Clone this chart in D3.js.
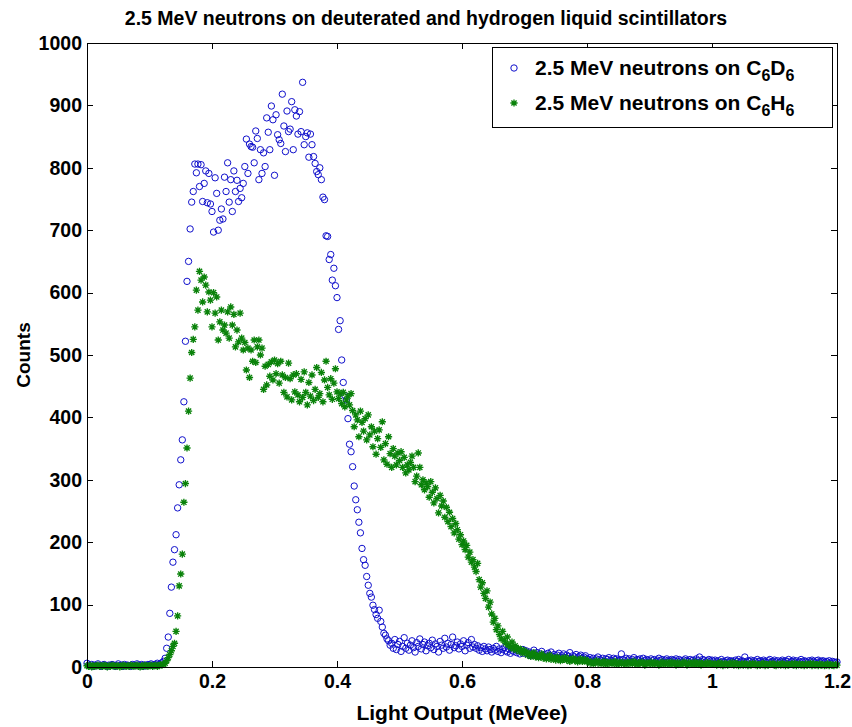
<!DOCTYPE html>
<meta charset="utf-8">
<head>
    <title>2.5 MeV neutrons on deuterated and hydrogen liquid scintillators</title>
    <style>
        body {
            margin: 0;
            background-color: #ffffff;
        }
        text {
            font-family: "Liberation Sans", Arial, sans-serif;
            font-weight: bold;
            fill: #000;
        }
        .axis path {
            display: none;
        }
        .axis line {
            stroke: #000;
            stroke-width: 1px;
            shape-rendering: crispEdges;
        }
        .axis text {
            font-size: 19.5px;
        }
        .frame {
            fill: none;
            stroke: #000;
            stroke-width: 1px;
            shape-rendering: crispEdges;
        }
        .d6 {
            fill: none;
            stroke: #1010cc;
            stroke-width: 1px;
        }
        .h6 {
            fill: none;
            stroke: #0a820a;
            stroke-width: 1.35px;
        }
    </style>
</head>
<body>
<svg width="852" height="727"></svg>
<script src="https://d3js.org/d3.v7.min.js"></script>
<script>
    // channel width of the light output histogram (MeVee)
    var binWidth = 0.0025;

    // counts per channel, C6D6 (blue circles)
    var d6Counts = [
        6,3,2,4,1,3,2,5,2,1, 3,4,2,1,3,2,4,3,1,2, 5,2,3,1,4,2,3,2,1,4,
        3,2,5,3,2,4,1,3,2,4, 3,5,2,4,3,6,4,5,7,9,
        14,30,48,86,128,168,188,212,255,292,
        332,364,425,522,618,650,702,745,762,806,
        792,806,770,805,746,775,795,744,791,742,
        730,697,784,759,700,716,734,718,785,762,
        808,745,781,730,795,762,780,746,767,752,
        775,802,846,791,838,834,833,808,859,847,
        781,829,791,824,802,880,857,829,899,877,
        788,885,853,845,839,918,867,826,891,858,
        862,906,829,893,883,854,890,858,937,837,
        850,856,817,854,837,818,807,794,789,800,
        781,753,749,691,690,653,661,620,639,611,
        592,541,555,492,456,435,428,398,357,345,
        321,290,268,252,232,215,190,172,163,145,
        131,118,112,99,92,84,78,91,73,64,
        54,51,45,42,35,38,30,44,28,36,
        41,25,33,47,30,38,27,35,42,31,
        24,39,33,45,29,36,40,26,34,38,
        31,43,28,37,33,24,41,35,30,46,
        32,38,27,36,48,31,34,40,29,37,
        33,42,26,35,39,30,44,32,36,30,
        34,27,31,25,33,29,26,32,28,24,
        30,27,33,25,29,23,28,31,26,24,
        29,22,27,25,30,23,26,21,25,28,
        22,26,21,24,18,22,27,19,23,17,
        21,25,18,20,16,22,19,24,17,20,
        15,19,22,16,18,21,15,19,17,23,
        14,18,16,20,15,17,19,14,16,18,
        13,12,15,11,14,10,13,16,12,11,
        14,9,13,12,15,11,10,14,12,13,
        9,11,21,12,10,14,11,13,9,12,
        15,10,12,11,13,9,14,10,12,11,
        8,13,10,12,9,11,14,10,12,8,
        11,13,10,9,12,11,10,13,9,12,
        10,8,11,13,10,9,12,10,11,8,
        13,10,16,9,12,11,8,10,12,9,
        11,9,11,8,10,7,12,9,8,10,
        11,8,10,9,7,11,9,12,8,10,
        9,16,8,10,9,11,7,10,8,12,
        9,10,8,11,9,7,10,12,8,9,
        11,8,10,7,9,11,8,10,9,12,
        7,9,11,8,10,7,9,12,8,10,
        9,7,10,8,11,9,7,10,11,8,
        9,10,7,9,8,10,6,9,8,7,
        8
    ];

    // counts per channel, C6H6 (green stars)
    var h6Counts = [
        2,1,3,0,2,1,2,3,1,2, 1,3,2,0,2,1,3,2,1,2, 2,0,1,3,2,1,2,1,3,2,
        1,2,3,1,0,2,1,3,2,1, 2,3,1,2,3,1,2,4,3,4,
        6,10,15,20,26,33,38,57,82,130,
        149,181,264,294,351,410,463,504,525,545,
        604,572,634,620,585,625,612,569,601,588,
        545,600,567,593,524,553,572,540,548,535,
        569,527,577,548,565,513,540,521,567,527,
        508,520,476,511,464,508,490,524,488,513,
        524,500,511,445,482,452,485,466,489,460,
        492,470,486,455,490,468,440,464,433,487,
        462,428,468,441,470,436,425,461,432,473,
        440,420,456,434,468,427,445,480,432,438,
        472,425,460,490,448,436,462,429,455,478,
        441,430,438,422,440,417,428,434,420,438,
        411,385,404,396,369,410,392,378,398,364,
        404,372,385,353,378,341,366,380,352,393,
        332,358,325,369,342,320,350,338,324,343,
        331,345,320,336,311,324,316,328,338,320,
        297,306,343,320,292,300,284,295,289,272,
        297,280,263,287,270,247,275,258,266,240,
        256,233,248,225,238,215,230,220,205,212,
        196,202,188,195,176,184,168,172,160,153,
        166,140,128,135,118,110,122,96,104,85,
        72,78,60,66,52,45,57,43,38,48,
        35,32,40,29,34,27,30,25,28,22,
        26,24,19,22,17,20,23,16,19,15,
        18,21,14,17,13,16,19,12,15,14,
        11,16,13,10,14,12,15,11,13,9,
        12,14,10,12,8,11,13,9,10,12,
        8,9,6,8,5,7,10,6,8,5,
        7,9,4,7,6,8,5,7,9,4,
        6,8,5,7,6,4,8,6,7,5,
        9,6,4,7,5,8,6,3,7,5,
        6,8,4,6,7,5,3,6,8,4,
        5,7,6,4,8,5,6,3,7,5,
        4,6,8,5,3,7,4,6,5,8,
        4,5,7,3,6,4,5,7,4,6,
        5,4,6,3,5,7,4,2,5,6,
        3,5,4,7,3,5,6,2,4,5,
        3,6,4,2,5,3,6,4,5,2,
        4,3,5,6,2,4,3,5,4,6,
        3,2,5,4,3,6,4,2,5,3,
        4,5,3,6,2,4,5,3,4,2,
        5,3,4,6,2,5,3,4,2,5,
        3,4,2,3,5,2,4,3,2,4,
        3
    ];

    var xTicks = [0, 0.2, 0.4, 0.6, 0.8, 1, 1.2];
    var yTicks = [0, 100, 200, 300, 400, 500, 600, 700, 800, 900, 1000];

    var titleText = "2.5 MeV neutrons on deuterated and hydrogen liquid scintillators";
    var xLabel = "Light Output (MeVee)";
    var yLabel = "Counts";
    var legendNames = [["C", "D"], ["C", "H"]];

    var svg = d3.select("svg"),
        margin = {top: 43, right: 15, bottom: 60, left: 87},
        width = +svg.attr("width") - margin.left - margin.right,
        height = +svg.attr("height") - margin.top - margin.bottom;

    var x = d3.scaleLinear().domain([0, 1.2]).range([0, width]);
    var y = d3.scaleLinear().domain([0, 1000]).range([height, 0]);

    var g = svg.append("g")
        .attr("transform", "translate(" + margin.left + "," + margin.top + ")");

    var fmt = function(d) { return String(d); };

    // axes with inward ticks on all four sides
    g.append("g")
        .attr("class", "axis")
        .attr("transform", "translate(0," + height + ")")
        .call(d3.axisBottom(x).tickValues(xTicks).tickFormat(fmt).tickSizeInner(-6).tickSizeOuter(0).tickPadding(7));

    g.append("g")
        .attr("class", "axis")
        .call(d3.axisTop(x).tickValues(xTicks).tickFormat("").tickSizeInner(-6).tickSizeOuter(0));

    g.append("g")
        .attr("class", "axis")
        .call(d3.axisLeft(y).tickValues(yTicks).tickFormat(fmt).tickSizeInner(-6).tickSizeOuter(0).tickPadding(5));

    g.append("g")
        .attr("class", "axis")
        .attr("transform", "translate(" + width + ",0)")
        .call(d3.axisRight(y).tickValues(yTicks).tickFormat("").tickSizeInner(-6).tickSizeOuter(0));

    // C6D6 circles
    g.append("g").selectAll("circle")
        .data(d6Counts)
        .enter().append("circle")
        .attr("class", "d6")
        .attr("cx", function(d, i) { return x(i * binWidth); })
        .attr("cy", function(d) { return y(d); })
        .attr("r", 3.2);

    // C6H6 stars
    var star = function(s) {
        var k = s * 0.72;
        return "M" + (-s) + ",0H" + s + "M0," + (-s) + "V" + s +
            "M" + (-k) + "," + (-k) + "L" + k + "," + k +
            "M" + (-k) + "," + k + "L" + k + "," + (-k);
    };

    g.append("g").selectAll("path")
        .data(h6Counts)
        .enter().append("path")
        .attr("class", "h6")
        .attr("transform", function(d, i) { return "translate(" + x(i * binWidth) + "," + y(d) + ")"; })
        .attr("d", star(3.6));

    g.append("rect")
        .attr("class", "frame")
        .attr("width", width)
        .attr("height", height);

    // titles
    svg.append("text")
        .attr("x", 426)
        .attr("y", 25)
        .style("text-anchor", "middle")
        .style("font-size", "19.5px")
        .text(titleText);

    svg.append("text")
        .attr("x", 462)
        .attr("y", 720)
        .style("text-anchor", "middle")
        .style("font-size", "21px")
        .text(xLabel);

    svg.append("text")
        .attr("transform", "translate(30," + (margin.top + height / 2) + ") rotate(-90)")
        .style("text-anchor", "middle")
        .style("font-size", "19px")
        .text(yLabel);

    // legend
    var legend = svg.append("g").attr("transform", "translate(492,47)");

    legend.append("rect")
        .attr("width", 340)
        .attr("height", 80)
        .style("fill", "#fff")
        .style("stroke", "#000")
        .style("stroke-width", 1)
        .style("shape-rendering", "crispEdges");

    legendNames.forEach(function(n, i) {
        var cy = 21 + i * 35;
        if (i === 0) {
            legend.append("circle").attr("class", "d6").attr("cx", 22).attr("cy", cy).attr("r", 3.2);
        } else {
            legend.append("path").attr("class", "h6").attr("transform", "translate(22," + cy + ")").attr("d", star(3.6));
        }
        var t = legend.append("text")
            .attr("x", 43)
            .attr("y", cy + 7)
            .style("font-size", "21px");
        t.append("tspan").text("2.5 MeV neutrons on " + n[0]);
        t.append("tspan").attr("dy", 6).style("font-size", "16px").text("6");
        t.append("tspan").attr("dy", -6).text(n[1]);
        t.append("tspan").attr("dy", 6).style("font-size", "16px").text("6");
    });
</script>
</body>
